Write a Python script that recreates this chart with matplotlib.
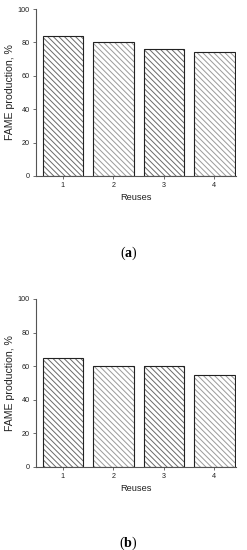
import matplotlib
matplotlib.use("Agg")
import matplotlib.pyplot as plt

# reuse cycles and FAME production (%) for panels a and b
reuses = [1, 2, 3, 4]
fame_a = [84, 80, 76, 74]
fame_b = [65, 60, 60, 55]
hatch_colors = ["#6a6a6a", "#9a9a9a", "#6a6a6a", "#9a9a9a"]

plt.rcParams["font.family"] = ["Liberation Sans", "DejaVu Sans"]
plt.rcParams["mathtext.fontset"] = "custom"
plt.rcParams["mathtext.rm"] = "Liberation Serif"
plt.rcParams["mathtext.bf"] = "Liberation Serif:bold"
plt.rcParams["hatch.linewidth"] = 0.7

fig = plt.figure(figsize=(2.47, 5.5), dpi=100)
ax1 = fig.add_axes([0.146, 0.68, 0.81, 0.3036])
ax2 = fig.add_axes([0.146, 0.151, 0.81, 0.3054])


def draw(ax, vals):
    for x, v, c in zip(reuses, vals, hatch_colors):
        ax.bar(x, v, width=0.8, color="white", edgecolor=c, hatch="\\" * 6, linewidth=0)
    ax.bar(reuses, vals, width=0.8, fill=False, edgecolor="#222222", linewidth=0.8)
    ax.set_xlim(0.47, 4.43)
    ax.set_ylim(0, 100)
    ax.set_xticks(reuses)
    ax.set_yticks([0, 20, 40, 60, 80, 100])
    for s in ["top", "right"]:
        ax.spines[s].set_visible(False)
    for s in ["left", "bottom"]:
        ax.spines[s].set_color("#555555")
        ax.spines[s].set_linewidth(0.8)
    ax.tick_params(labelsize=5.2, length=2.5, width=0.6, colors="#555555", labelcolor="#222222", pad=2)
    ax.set_xlabel("Reuses", fontsize=6.7, labelpad=3, color="#222222")
    ax.set_ylabel("FAME production, %", fontsize=7.6, labelpad=2, color="#222222")


draw(ax1, fame_a)
draw(ax2, fame_b)

fig.text(0.52, 0.54, r"$\mathrm{(}\mathbf{a}\mathrm{)}$", ha="center", va="center", fontsize=10)
fig.text(0.52, 0.013, r"$\mathrm{(}\mathbf{b}\mathrm{)}$", ha="center", va="center", fontsize=10)

plt.savefig("out.png", dpi=100)
